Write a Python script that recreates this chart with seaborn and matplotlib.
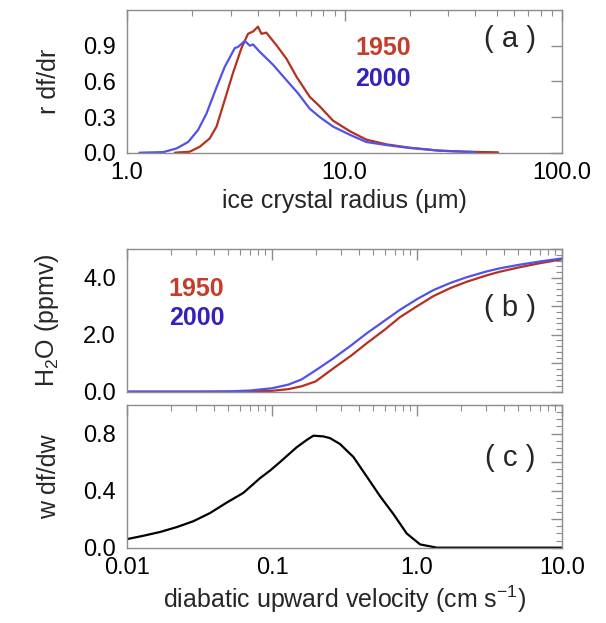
import numpy as np
import pandas as pd
import matplotlib
matplotlib.use("Agg")
import matplotlib.pyplot as plt
import matplotlib.ticker as mticker
import seaborn as sns

# panel (a) - ice crystal size distribution
r_1950 = [1.66, 1.94, 2.16, 2.40, 2.58, 2.81, 3.07, 3.36, 3.60, 3.80, 4.00, 4.15, 4.37,
          4.86, 5.41, 6.01, 6.92, 7.69, 8.85, 10.6, 12.6, 15.6, 19.9, 27.4, 36.3, 50.8]
f_1950 = [0.0, 0.008, 0.05, 0.12, 0.22, 0.44, 0.67, 0.88, 1.00, 1.02, 1.06, 1.00, 1.01,
          0.905, 0.79, 0.64, 0.47, 0.39, 0.27, 0.18, 0.11, 0.07, 0.042, 0.017, 0.008, 0.003]
r_2000 = [1.14, 1.47, 1.69, 1.91, 2.12, 2.32, 2.58, 2.81, 3.13, 3.24, 3.48, 3.67, 3.80,
          4.07, 4.69, 5.41, 6.11, 6.92, 7.69, 8.85, 10.6, 12.6, 15.6, 19.9, 27.4, 40.0]
f_2000 = [0.0, 0.005, 0.036, 0.09, 0.19, 0.33, 0.55, 0.72, 0.88, 0.89, 0.94, 0.90, 0.91,
          0.85, 0.74, 0.61, 0.50, 0.37, 0.30, 0.22, 0.15, 0.09, 0.064, 0.04, 0.017, 0.005]

# panel (b) - H2O vs diabatic velocity
w_h2o = [0.01, 0.03, 0.05, 0.07, 0.1, 0.13, 0.16, 0.2, 0.265, 0.35, 0.45, 0.6, 0.76,
         1.0, 1.3, 1.7, 2.2, 3.0, 3.7, 5.1, 7.0, 10.0]
h2o_2000 = [0.0, 0.0, 0.01, 0.04, 0.12, 0.25, 0.43, 0.75, 1.17, 1.62, 2.05, 2.50, 2.87,
            3.25, 3.57, 3.82, 4.02, 4.22, 4.33, 4.46, 4.57, 4.68]
h2o_1950 = [0.0, 0.0, 0.0, 0.005, 0.03, 0.09, 0.19, 0.36, 0.82, 1.26, 1.70, 2.18, 2.61,
            3.00, 3.36, 3.64, 3.86, 4.08, 4.21, 4.37, 4.51, 4.65]

# panel (c) - velocity distribution
w_vel = [0.01, 0.0129, 0.0169, 0.022, 0.0286, 0.0374, 0.0487, 0.0634, 0.0826, 0.0968,
         0.1135, 0.148, 0.173, 0.193, 0.226, 0.251, 0.294, 0.364, 0.45, 0.556, 0.687,
         0.85, 1.05, 1.37, 3.0, 10.0]
w_pdf = [0.06, 0.083, 0.11, 0.144, 0.185, 0.243, 0.316, 0.384, 0.487, 0.54,
         0.60, 0.704, 0.754, 0.785, 0.78, 0.768, 0.727, 0.636, 0.499, 0.361, 0.236,
         0.099, 0.023, 0.0, 0.0, 0.0]

line_colors = {"1950": "#b5311f", "2000": "#5252ea"}
text_colors = {"1950": "#c43c2a", "2000": "#3322bb"}

sns.set_style("white")
plt.rcParams["font.family"] = ["Liberation Sans", "DejaVu Sans"]
plt.rcParams["mathtext.fontset"] = "custom"
plt.rcParams["mathtext.rm"] = "Liberation Sans"
plt.rcParams["mathtext.it"] = "Liberation Sans:italic"

df_a = pd.concat([
    pd.DataFrame({"r": r_1950, "f": f_1950, "year": "1950"}),
    pd.DataFrame({"r": r_2000, "f": f_2000, "year": "2000"}),
])
df_b = pd.concat([
    pd.DataFrame({"w": w_h2o, "h2o": h2o_1950, "year": "1950"}),
    pd.DataFrame({"w": w_h2o, "h2o": h2o_2000, "year": "2000"}),
])
df_c = pd.DataFrame({"w": w_vel, "pdf": w_pdf})

fig = plt.figure(figsize=(6.06, 6.23), dpi=100)
ax_a = fig.add_axes([0.2096, 0.7549, 0.7178, 0.229])
ax_b = fig.add_axes([0.2096, 0.3713, 0.7178, 0.2285])
ax_c = fig.add_axes([0.2096, 0.1209, 0.7178, 0.229])

TICK_FS = 17
LAB_FS = 18
LEG_FS = 18
PANEL_FS = 21
grey = "#8c8c8c"


def style_axis(ax):
    for s in ax.spines.values():
        s.set_color(grey)
        s.set_linewidth(1.0)
    ax.tick_params(which="both", direction="in", top=True, right=True,
                   color=grey, labelsize=TICK_FS, labelcolor="black")
    ax.tick_params(which="major", length=8, width=1)
    ax.tick_params(axis="x", which="major", pad=7)
    ax.tick_params(axis="y", which="major", pad=8)
    ax.tick_params(which="minor", length=4, width=0.8)
    ax.xaxis.set_minor_formatter(mticker.NullFormatter())


# (a)
sns.lineplot(data=df_a, x="r", y="f", hue="year", palette=line_colors, sort=False,
             estimator=None, legend=False, linewidth=1.6, ax=ax_a)
ax_a.set_xscale("log")
ax_a.set_xlim(1, 100)
ax_a.set_ylim(0, 1.2)
ax_a.set_xticks([1, 10, 100])
ax_a.set_xticklabels(["1.0", "10.0", "100.0"])
ax_a.set_yticks([0, 0.3, 0.6, 0.9])
ax_a.set_yticklabels(["0.0", "0.3", "0.6", "0.9"])
ax_a.set_xlabel("ice crystal radius (\u03bcm)", fontsize=LAB_FS, labelpad=3)
ax_a.set_ylabel("r df/dr", fontsize=LAB_FS, labelpad=16)
style_axis(ax_a)
ax_a.text(0.88, 0.80, "( a )", transform=ax_a.transAxes, fontsize=PANEL_FS,
          ha="center", va="center")
ax_a.text(0.589, 0.737, "1950", transform=ax_a.transAxes, fontsize=LEG_FS,
          fontweight="bold", color=text_colors["1950"], ha="center", va="center")
ax_a.text(0.589, 0.516, "2000", transform=ax_a.transAxes, fontsize=LEG_FS,
          fontweight="bold", color=text_colors["2000"], ha="center", va="center")

# (b)
sns.lineplot(data=df_b, x="w", y="h2o", hue="year", palette=line_colors, sort=False,
             estimator=None, legend=False, linewidth=1.6, ax=ax_b)
ax_b.set_xscale("log")
ax_b.set_xlim(0.01, 10)
ax_b.set_ylim(0, 5)
ax_b.set_xticks([0.01, 0.1, 1, 10])
ax_b.set_xticklabels([])
ax_b.yaxis.set_major_locator(mticker.MultipleLocator(1))
ax_b.yaxis.set_major_formatter(mticker.FuncFormatter(
    lambda v, p: f"{v:.1f}" if int(round(v)) % 2 == 0 else ""))
ax_b.yaxis.set_minor_locator(mticker.MultipleLocator(0.2))
ax_b.set_xlabel("")
ax_b.set_ylabel(r"$\mathregular{H_2O}$ (ppmv)", fontsize=LAB_FS, labelpad=16)
style_axis(ax_b)
ax_b.text(0.88, 0.59, "( b )", transform=ax_b.transAxes, fontsize=PANEL_FS,
          ha="center", va="center")
ax_b.text(0.16, 0.72, "1950", transform=ax_b.transAxes, fontsize=LEG_FS,
          fontweight="bold", color=text_colors["1950"], ha="center", va="center")
ax_b.text(0.16, 0.52, "2000", transform=ax_b.transAxes, fontsize=LEG_FS,
          fontweight="bold", color=text_colors["2000"], ha="center", va="center")

# (c)
sns.lineplot(data=df_c, x="w", y="pdf", color="black", sort=False,
             estimator=None, linewidth=1.6, ax=ax_c)
ax_c.set_xscale("log")
ax_c.set_xlim(0.01, 10)
ax_c.set_ylim(0, 1.0)
ax_c.set_xticks([0.01, 0.1, 1, 10])
ax_c.set_xticklabels(["0.01", "0.1", "1.0", "10.0"])
ax_c.yaxis.set_major_locator(mticker.MultipleLocator(0.2))
ax_c.yaxis.set_major_formatter(mticker.FuncFormatter(
    lambda v, p: f"{v:.1f}" if int(round(v * 10)) % 4 == 0 else ""))
ax_c.yaxis.set_minor_locator(mticker.MultipleLocator(0.05))
ax_c.set_xlabel(r"diabatic upward velocity (cm s$^{\mathregular{-1}}$)",
                fontsize=LAB_FS, labelpad=3)
ax_c.set_ylabel("w df/dw", fontsize=LAB_FS, labelpad=16)
style_axis(ax_c)
ax_c.text(0.88, 0.63, "( c )", transform=ax_c.transAxes, fontsize=PANEL_FS,
          ha="center", va="center")

fig.savefig("out.png", dpi=100)
